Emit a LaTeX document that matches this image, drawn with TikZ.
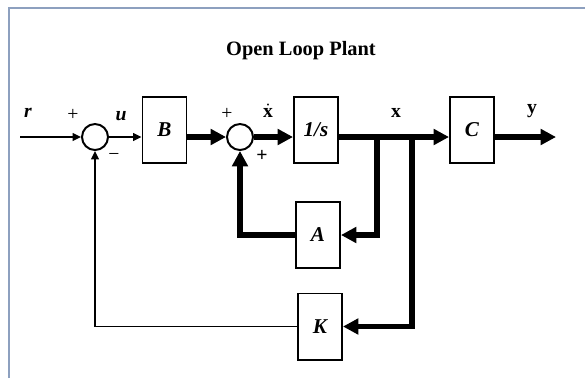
\documentclass[tikz,border=0pt]{standalone}
\usepackage{fontspec}
\setmainfont{Liberation Serif}
\usetikzlibrary{arrows.meta}

\begin{document}
\begin{tikzpicture}[x=0.025cm,y=-0.025cm,
  blk/.style={draw,line width=1.4pt,inner sep=0pt,minimum width=1.1cm,minimum height=1.65cm,font=\fontsize{15}{17}\selectfont\bfseries\itshape},
  sumnode/.style={draw,circle,line width=1.4pt,inner sep=0pt,minimum size=0.65cm},
  sig/.style={line width=1.1pt,-{Triangle[length=6pt,width=5.5pt]}},
  bigsig/.style={line width=3.6pt,-{Triangle[length=11pt,width=11pt]}},
  lbl/.style={font=\fontsize{14}{16}\selectfont\bfseries},
  ilbl/.style={font=\fontsize{14}{16}\selectfont\bfseries\itshape},
  sgn/.style={font=\fontsize{14}{16}\selectfont}]

\useasboundingbox (0,0) rectangle (585,378);
\draw[color={rgb,255:red,141;green,160;blue,191},line width=1pt] (9,378) -- (9,8) -- (585,8);

\node (title) at (301,51) {\fontsize{14.5}{16}\selectfont\bfseries Open Loop Plant};

% BLOCKS
\node[sumnode] (s1) at (95,137) {};
\node[blk] (B) at (164.5,130) {B};
\node[sumnode] (s2) at (240,137) {};
\node[blk] (I) at (316,130) {1/s};
\node[blk] (C) at (472,130) {C};
\node[blk] (A) at (318,235) {A};
\node[blk] (K) at (320,326.5) {K};

\coordinate (rin) at (20,137);
\coordinate (yout) at (556,137);
\coordinate (bA) at (377,137);
\coordinate (bK) at (412,137);


% ARROWS

\draw[sig] (rin) -- (s1);
\draw[sig] (s1) -- (s1 -| B.west);
\draw[bigsig] (s2 -| B.east) -- (s2);
\draw[bigsig] (s2) -- (s2 -| I.west);
\draw[bigsig] (s2 -| I.east) -- (s2 -| C.west);
\draw[bigsig] (yout -| C.east) -- (yout);

\draw[bigsig] (bA) |- (A);
\draw[bigsig] (A) -| (s2);
\draw[bigsig] (bK) |- (K);
\draw[sig] (K) -| (s1);


% NOTES
\node[ilbl] (r) at (28,113) {r};
\node[sgn] (p1) at (73,115) {+};
\node[sgn] (m1) at (114,157) {\textminus};
\node[ilbl] (u) at (121,116) {u};
\node[sgn] (p2) at (227,114) {+};
\node[lbl] (xd) at (268,111) {$\dot{\mathbf{x}}$};
\node[sgn] (p3) at (262,156) {\textbf{+}};
\node[lbl] (x) at (396,113) {x};
\node[lbl] (y) at (532,111) {y};

\end{tikzpicture}
\end{document}
